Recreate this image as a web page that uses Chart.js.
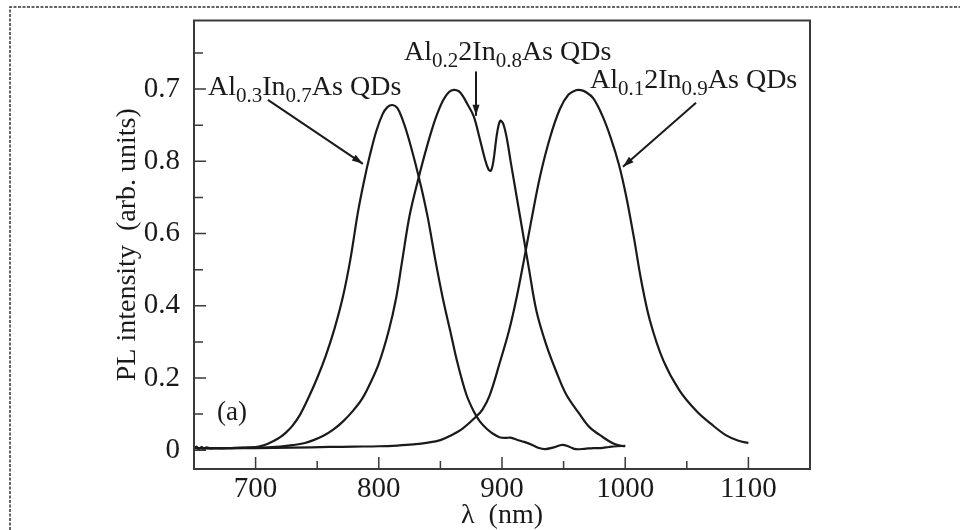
<!DOCTYPE html>
<html><head><meta charset="utf-8">
<script src="https://cdn.jsdelivr.net/npm/chart.js@4.4.1/dist/chart.umd.min.js"></script>
<style>html,body{margin:0;padding:0;background:#fff;}canvas{display:block;}</style>
</head><body>
<canvas id="c" width="960" height="530"></canvas>
<script>
// ---- data ----
const seriesNames = ['Al0.3In0.7As QDs', 'Al0.22In0.8As QDs', 'Al0.12In0.9As QDs'];

const wlA = [650,652,654,656,658,660,663,667,672,680,690,700,705,710,715,720,725,730,736,743,750,757,764,771,777,783,788,793,798,803,807,811,815,819,824,830,835,840,846,852,858,864,871,877,882,888,893,898,903,907,912,918,925,930,935,942,949,955,960,967,974,980,987,993,1000];
const plA = [0.004,0.010,0.002,0.009,0.003,0.008,0.005,0.006,0.005,0.006,0.007,0.009,0.012,0.018,0.026,0.036,0.050,0.068,0.098,0.146,0.200,0.262,0.336,0.427,0.530,0.658,0.745,0.820,0.884,0.930,0.950,0.956,0.948,0.918,0.866,0.790,0.720,0.640,0.525,0.420,0.330,0.240,0.155,0.108,0.080,0.058,0.045,0.036,0.034,0.035,0.029,0.023,0.014,0.006,0.003,0.008,0.015,0.009,0.003,0.004,0.006,0.006,0.009,0.011,0.012];

const wlB = [650,660,680,700,710,720,730,740,747,755,763,771,779,786,792,800,808,814,819,825,832,839,846,852,857,861,865,868,872,877,882,886,889,891,893,896,898.5,901,904,907,912,917,922,928,936,944,952,963,971,982,990,996,1000];
const plB = [0.006,0.005,0.006,0.007,0.008,0.010,0.014,0.020,0.028,0.040,0.057,0.080,0.109,0.140,0.178,0.240,0.330,0.420,0.525,0.650,0.750,0.840,0.918,0.968,0.992,0.998,0.994,0.982,0.958,0.925,0.862,0.808,0.778,0.774,0.800,0.878,0.912,0.904,0.862,0.800,0.700,0.600,0.500,0.385,0.291,0.218,0.155,0.100,0.064,0.036,0.019,0.013,0.011];

const wlC = [650,670,700,730,760,780,800,815,828,840,850,858,868,878,884,890,898,906,912,918,924,931,939,947,954,960,964,968,974,981,988,995,1001,1007,1013,1020,1031,1044,1058,1070,1082,1092,1100];
const plC = [0.006,0.006,0.006,0.007,0.009,0.010,0.011,0.013,0.016,0.021,0.028,0.040,0.060,0.090,0.112,0.152,0.240,0.335,0.425,0.530,0.640,0.760,0.866,0.945,0.985,0.997,0.997,0.992,0.975,0.930,0.868,0.790,0.700,0.590,0.470,0.360,0.248,0.166,0.108,0.072,0.041,0.026,0.020];

const xTicks = [700,800,900,1000,1100];
const xTickLabels = ['700','800','900','1000','1100'];
const xMinorTicks = [750,850,950,1050];
const yTicks = [0,0.2,0.4,0.6,0.8,1.0];
const yTickLabels = ['0','0.2','0.4','0.6','0.8','0.7'];
const yMinorTicks = [0.1,0.3,0.5,0.7,0.9,1.1];

const xTitle = 'λ  (nm)';
const yTitle = 'PL intensity  (arb. units)';
const panelLabel = '(a)';
// rich label parts: [text, isSubscript]
const label1 = [['Al',0],['0.3',1],['In',0],['0.7',1],['As QDs',0]];
const label2 = [['Al',0],['0.2',1],['2In',0],['0.8',1],['As QDs',0]];
const label3 = [['Al',0],['0.1',1],['2In',0],['0.9',1],['As QDs',0]];

// ---- annotation placement (data coordinates) ----
const annots = [
  {parts: label1, at: [661.4, 0.983], from: [710, 0.970], to: [787.1, 0.793]},
  {parts: label2, at: [820.5, 1.081], from: [878.9, 1.049], to: [878.9, 0.926]},
  {parts: label3, at: [971.4, 1.004], from: [1057.5, 0.962], to: [998.2, 0.785]}
];
const panelAt = [668.7, 0.104];

const FONT = "'Liberation Serif', 'Times New Roman', serif";
const INK = '#1a1a1a';

function pts(xs, ys){ return xs.map((x,i)=>({x:x, y:ys[i]})); }

function arrow(ctx, x0, y0, x1, y1){
  ctx.beginPath(); ctx.moveTo(x0,y0); ctx.lineTo(x1,y1); ctx.stroke();
  const ang = Math.atan2(y1-y0, x1-x0), L = 11, W = 3.5;
  ctx.beginPath();
  ctx.moveTo(x1,y1);
  ctx.lineTo(x1 - L*Math.cos(ang) + W*Math.sin(ang), y1 - L*Math.sin(ang) - W*Math.cos(ang));
  ctx.lineTo(x1 - L*Math.cos(ang) - W*Math.sin(ang), y1 - L*Math.sin(ang) + W*Math.cos(ang));
  ctx.closePath(); ctx.fill();
}

function rich(ctx, parts, x, y){
  ctx.textBaseline = 'alphabetic'; ctx.textAlign = 'left';
  let cx = x;
  parts.forEach(([t, sub])=>{
    ctx.font = (sub ? '21px ' : '28px ') + FONT;
    ctx.fillText(t, cx, sub ? y + 7 : y);
    cx += ctx.measureText(t).width;
  });
}

const deco = {
  id: 'deco',
  afterDraw(chart){
    const {ctx, chartArea: a, scales: {x, y}} = chart;
    ctx.save();
    // outer dashed frame
    ctx.strokeStyle = '#333'; ctx.lineWidth = 1.5; ctx.setLineDash([3,1.5]);
    ctx.beginPath(); ctx.moveTo(10, 530); ctx.lineTo(10, 7); ctx.lineTo(960, 7); ctx.stroke();
    ctx.setLineDash([]);
    // plot frame
    ctx.strokeStyle = '#3a3a3a'; ctx.lineWidth = 2;
    ctx.strokeRect(a.left, a.top, a.right - a.left, a.bottom - a.top);
    // inward ticks
    ctx.lineWidth = 1.5; ctx.beginPath();
    yTicks.forEach(v=>{ const p = y.getPixelForValue(v); ctx.moveTo(a.left, p); ctx.lineTo(a.left + 12, p); });
    yMinorTicks.forEach(v=>{ const p = y.getPixelForValue(v); ctx.moveTo(a.left, p); ctx.lineTo(a.left + 9, p); });
    xTicks.forEach(v=>{ const p = x.getPixelForValue(v); ctx.moveTo(p, a.bottom); ctx.lineTo(p, a.bottom - 12); });
    xMinorTicks.forEach(v=>{ const p = x.getPixelForValue(v); ctx.moveTo(p, a.bottom); ctx.lineTo(p, a.bottom - 8); });
    ctx.stroke();
    // annotations
    ctx.fillStyle = INK; ctx.strokeStyle = INK; ctx.lineWidth = 2;
    annots.forEach(an=>{
      rich(ctx, an.parts, x.getPixelForValue(an.at[0]), y.getPixelForValue(an.at[1]));
      arrow(ctx, x.getPixelForValue(an.from[0]), y.getPixelForValue(an.from[1]),
                 x.getPixelForValue(an.to[0]), y.getPixelForValue(an.to[1]));
    });
    ctx.font = '27px ' + FONT; ctx.textBaseline = 'middle'; ctx.textAlign = 'left';
    ctx.fillText(panelLabel, x.getPixelForValue(panelAt[0]), y.getPixelForValue(panelAt[1]));
    ctx.restore();
  }
};

const ds = (d)=>({data: d, showLine: true, borderColor: INK, borderWidth: 2.2, pointRadius: 0,
                  tension: 0.35, fill: false});

new Chart(document.getElementById('c'), {
  type: 'scatter',
  data: { datasets: [
    Object.assign(ds(pts(wlA, plA)), {label: seriesNames[0]}),
    Object.assign(ds(pts(wlB, plB)), {label: seriesNames[1]}),
    Object.assign(ds(pts(wlC, plC)), {label: seriesNames[2]})
  ]},
  options: {
    responsive: false, animation: false, devicePixelRatio: 1,
    layout: { padding: { top: 13, right: 150, bottom: 0, left: 0 } },
    plugins: { legend: { display: false }, tooltip: { enabled: false } },
    scales: {
      x: {
        type: 'linear', min: 650, max: 1150,
        afterBuildTicks: s => { s.ticks = xTicks.map(v => ({value: v})); },
        afterFit: s => { s.height = 61; },
        ticks: { callback: (v, i) => xTickLabels[i], autoSkip: false, maxRotation: 0,
                 font: { family: FONT, size: 29, lineHeight: 1 }, color: INK, padding: -2 },
        grid: { display: false }, border: { display: false },
        title: { display: true, text: xTitle, color: INK,
                 font: { family: FONT, size: 28, lineHeight: 1 }, padding: { top: 0, bottom: 0 } }
      },
      y: {
        type: 'linear', min: -0.052, max: 1.19,
        afterBuildTicks: s => { s.ticks = yTicks.map(v => ({value: v})); },
        afterFit: s => { s.width = 194; },
        ticks: { callback: (v, i) => yTickLabels[i], autoSkip: false,
                 font: { family: FONT, size: 29, lineHeight: 1 }, color: INK, padding: 6 },
        grid: { display: false }, border: { display: false },
        title: { display: true, text: yTitle, color: INK,
                 font: { family: FONT, size: 28, lineHeight: 1 }, padding: { top: 114, bottom: 0 } }
      }
    }
  },
  plugins: [deco]
});
</script>
</body></html>
